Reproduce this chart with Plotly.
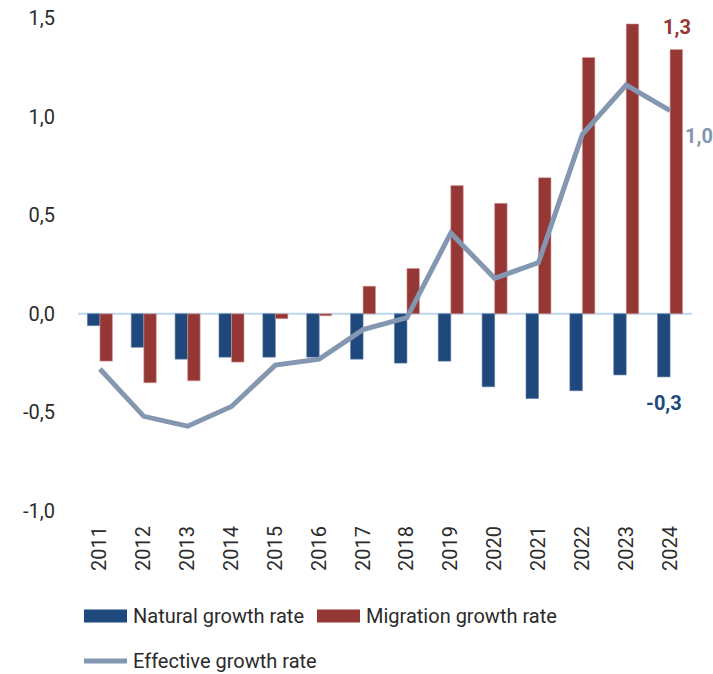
import plotly.graph_objects as go

years = ["2011", "2012", "2013", "2014", "2015", "2016", "2017",
         "2018", "2019", "2020", "2021", "2022", "2023", "2024"]
natural = [-0.06, -0.17, -0.23, -0.22, -0.22, -0.22, -0.23,
           -0.25, -0.24, -0.37, -0.43, -0.39, -0.31, -0.32]
migration = [-0.24, -0.35, -0.34, -0.245, -0.025, -0.01, 0.14,
             0.23, 0.65, 0.56, 0.69, 1.30, 1.47, 1.34]
effective = [-0.28, -0.52, -0.57, -0.47, -0.26, -0.23, -0.08,
             -0.02, 0.41, 0.18, 0.26, 0.91, 1.16, 1.03]
tick_vals = [-1.0, -0.5, 0.0, 0.5, 1.0, 1.5]
tick_text = ["-1,0", "-0,5", "0,0", "0,5", "1,0", "1,5"]

C_NAT = "#1F497D"
C_MIG = "#953735"
C_EFF = "#8497B0"
FONT = "Roboto"
TXT = "#2b2b2b"

fig = go.Figure()
fig.add_trace(go.Bar(x=years, y=natural, name="Natural growth rate",
                     marker=dict(color=C_NAT, line=dict(color="#5b7aa3", width=0.6))))
fig.add_trace(go.Bar(x=years, y=migration, name="Migration growth rate",
                     marker=dict(color=C_MIG, line=dict(color="#d9a0a0", width=0.6))))
fig.add_trace(go.Scatter(x=years, y=effective, name="Effective growth rate",
                         mode="lines", line=dict(color=C_EFF, width=5)))

# data labels for last year (category serial index)
last = len(years) - 1
fig.add_annotation(x=last, y=migration[-1], text="<b>1,3</b>", showarrow=False,
                   xshift=7, yshift=23, font=dict(family=FONT, size=20, color=C_MIG))
fig.add_annotation(x=last, y=effective[-1], text="<b>1,0</b>", showarrow=False,
                   xshift=29, yshift=-25, font=dict(family=FONT, size=20, color=C_EFF))
fig.add_annotation(x=last, y=natural[-1], text="<b>-0,3</b>", showarrow=False,
                   xshift=-6, yshift=-26, font=dict(family=FONT, size=20, color=C_NAT))

# custom legend
leg = [
    ("Natural growth rate", C_NAT, "bar", 0.0, 616),
    ("Migration growth rate", C_MIG, "bar", 233, 616),
    ("Effective growth rate", C_EFF, "line", 0.0, 661),
]
W, H = 713, 674
l, r, t, b = 78, 21, 18, 163
pw, ph = W - l - r, H - t - b
for name, col, kind, dx, ypix in leg:
    x0 = (84 + dx - l) / pw
    x1 = (127 + dx - l) / pw
    yc = (H - b - ypix) / ph
    if kind == "bar":
        fig.add_shape(type="rect", xref="paper", yref="paper", x0=x0, x1=x1,
                      y0=yc - 6.5 / ph, y1=yc + 6.5 / ph, fillcolor=col,
                      line=dict(width=0))
    else:
        fig.add_shape(type="line", xref="paper", yref="paper", x0=x0, x1=x1,
                      y0=yc, y1=yc, line=dict(color=col, width=5))
    fig.add_annotation(xref="paper", yref="paper", x=(131 + dx - l) / pw, y=yc,
                       xanchor="left", yanchor="middle", text=name, showarrow=False,
                       font=dict(family=FONT, size=20, color=TXT))

fig.update_layout(
    width=W, height=H,
    margin=dict(l=l, r=r, t=t, b=b, autoexpand=False),
    barmode="group", bargap=0.43, bargroupgap=0,
    plot_bgcolor="white", paper_bgcolor="white",
    showlegend=False,
    font=dict(family=FONT, size=20, color=TXT),
)
fig.update_yaxes(range=[-1.0, 1.5], tickvals=tick_vals, ticktext=tick_text,
                 showgrid=False, zeroline=False, automargin=False,
                 ticklabelstandoff=22, showline=False,
                 tickfont=dict(family=FONT, size=20, color=TXT))
fig.add_hline(y=0, line=dict(color="#BDD7EE", width=2), layer="below")
fig.update_xaxes(type="category", range=[-0.5, len(years) - 0.5], tickangle=-90,
                 showgrid=False, showline=False, ticks="", automargin=False,
                 tickfont=dict(family=FONT, size=20, color=TXT), ticklabelstandoff=10)

fig.write_html("out.html", config={"displayModeBar": False},
               post_script="document.body.style.margin='0';")
